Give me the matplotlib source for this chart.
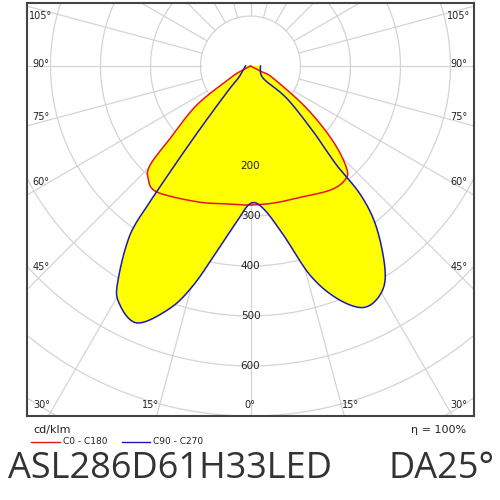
import numpy as np
import matplotlib
matplotlib.use("Agg")
import matplotlib.pyplot as plt

# Points along each half-curve, from 0° (down) towards the top: (gamma deg, cd/klm)
# C0 - C180 (red)
red_left_g = [0, 10, 21.6, 36.7, 42.3, 45.4, 48, 54, 59, 62, 90]
red_left_r = [278, 280, 292, 314, 304, 282, 216, 133, 48, 26, 0]
red_right_g = [0, 10, 19.5, 32.7, 39.7, 43.2, 47.6, 53, 61.6, 63, 90]
red_right_r = [278, 278, 280, 295, 296, 281, 224, 141, 52, 26, 0]
# C90 - C270 (blue)
blue_left_g = [0, 5.1, 10.3, 14.6, 18.4, 23.9, 29.3, 31.9, 35.5, 36.5, 37, 38, 39.5, 42.6, 46, 90]
blue_left_r = [275, 313, 377, 453, 511, 562, 540, 500, 415, 340, 286, 204, 127, 61, 32, 10]
blue_right_g = [0, 5.1, 11, 15.9, 20.4, 25, 29.5, 33.2, 37.9, 40.5, 41, 43.7, 48.3, 46, 90]
blue_right_r = [275, 286, 344, 435, 496, 533, 526, 492, 411, 340, 262, 182, 97, 35, 20]

ring_vals = [200, 300, 400, 500, 600]

def xy(gr, rr, side):
    g = np.radians(np.array(gr, float)); r = np.array(rr, float)
    return side * r * np.sin(g), -r * np.cos(g)

def catmull(x, y, n=12):
    P = np.column_stack([x, y])
    P = np.vstack([P[0], P, P[-1]])
    out = []
    t = np.linspace(0, 1, n, endpoint=False)[:, None]
    for i in range(1, len(P) - 2):
        p0, p1, p2, p3 = P[i-1], P[i], P[i+1], P[i+2]
        out.append(0.5 * ((2*p1) + (-p0 + p2)*t + (2*p0 - 5*p1 + 4*p2 - p3)*t**2
                          + (-p0 + 3*p1 - 3*p2 + p3)*t**3))
    out.append(P[-2][None, :])
    o = np.vstack(out)
    return o[:, 0], o[:, 1]

def curve(gl, rl, gright, rright):
    xl, yl = xy(gl, rl, -1)
    xr, yr = xy(gright, rright, 1)
    x = np.concatenate([xl[::-1], xr[1:]]); y = np.concatenate([yl[::-1], yr[1:]])
    return catmull(x, y)

fig = plt.figure(figsize=(5, 5), dpi=100)
ax = fig.add_axes([27/500, 1-416/500, 447/500, 413/500])
ax.set_xlim(-447, 447); ax.set_ylim(-700, 126)
ax.set_xticks([]); ax.set_yticks([])
for s in ax.spines.values():
    s.set_color('#444'); s.set_linewidth(1.5)

t = np.linspace(0, 2*np.pi, 400)
for rv in range(100, 1300, 100):
    ax.plot(rv*np.cos(t), rv*np.sin(t), color='#d4d4d4', lw=0.9, zorder=1)
for a in range(0, 360, 15):
    ar = np.radians(a)
    ax.plot([100*np.sin(ar), 1300*np.sin(ar)], [-100*np.cos(ar), -1300*np.cos(ar)],
            color='#d4d4d4', lw=0.9, zorder=1)

rx, ry = curve(red_left_g, red_left_r, red_right_g, red_right_r)
bx, by = curve(blue_left_g, blue_left_r, blue_right_g, blue_right_r)
ax.fill(rx, ry, color='#ffff00', zorder=2, lw=0)
ax.fill(bx, by, color='#ffff00', zorder=2, lw=0)
ax.plot(rx, ry, color='#e8141c', lw=1.1, zorder=3)
ax.plot(bx, by, color='#1a1ab4', lw=1.1, zorder=4)

for v in ring_vals:
    ax.text(0, -v, str(v), ha='center', va='center', fontsize=7.5, color='#222', zorder=5)

def ft(x, y, s, **kw):
    fig.text(x/500, 1-y/500, s, **kw)

side = [(105, 16), (90, 64), (75, 117), (60, 182), (45, 267)]
for a, y in side:
    ft(41, y, f"{a}°", ha='center', va='center', fontsize=7, color='#222')
    ft(459, y, f"{a}°", ha='center', va='center', fontsize=7, color='#222')
for a, x in [(30, 42), (15, 151), (0, 250), (15, 351), (30, 459)]:
    ft(x, 405, f"{a}°", ha='center', va='center', fontsize=7, color='#222')

ft(33, 430, "cd/klm", ha='left', va='center', fontsize=8, color='#222')
ft(466, 430, "η = 100%", ha='right', va='center', fontsize=8, color='#222')
fig.add_artist(plt.Line2D([31/500, 60/500], [1-442/500]*2, color='#e8141c', lw=1))
ft(63, 442, "C0 - C180", ha='left', va='center', fontsize=6.5, color='#222')
fig.add_artist(plt.Line2D([122/500, 150/500], [1-442/500]*2, color='#1a1ab4', lw=1))
ft(153, 442, "C90 - C270", ha='left', va='center', fontsize=6.5, color='#222')

ft(8, 469, "ASL286D61H33LED", ha='left', va='center', fontsize=26, color='#333', family='Open Sans')
ft(495, 469, "DA25°", ha='right', va='center', fontsize=26, color='#333', family='Open Sans')

fig.savefig("out.png", dpi=100)
